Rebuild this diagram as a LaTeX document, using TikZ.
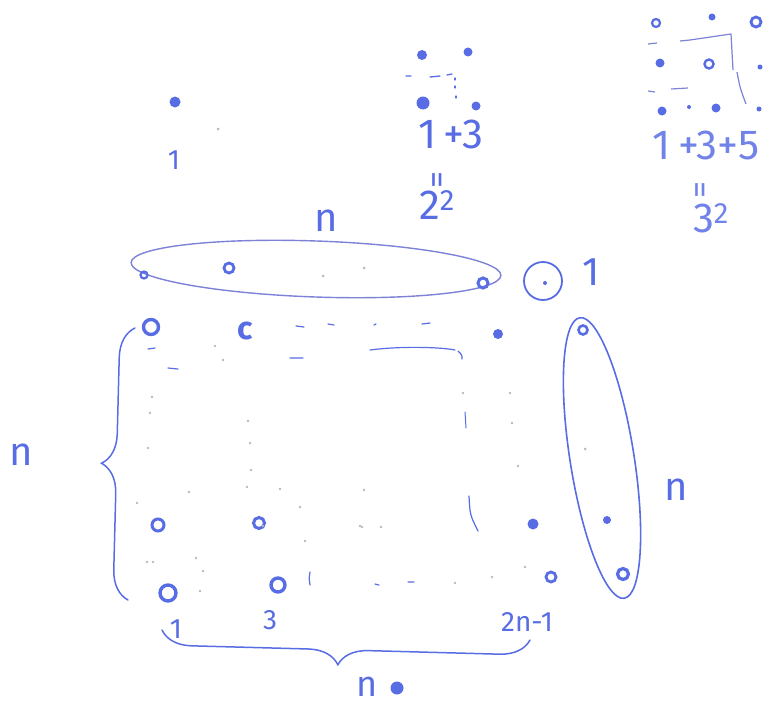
\documentclass[tikz,border=0pt]{standalone}
\usepackage{fontspec}
\setmainfont{Fira Sans}
\usetikzlibrary{decorations.pathreplacing}
\definecolor{ink}{RGB}{88,108,228}
\definecolor{inklight}{RGB}{125,130,215}
\begin{document}
\begin{tikzpicture}[x=1pt,y=-1pt,
  dotf/.style={circle,fill=ink,inner sep=0pt,minimum size=9pt},
  ring/.style={circle,draw=ink,line width=2.6pt,inner sep=0pt,minimum size=8pt},
  faint/.style={circle,fill=gray!55,inner sep=0pt,minimum size=3pt},
  lbl/.style={text=ink,inner sep=0pt},
  big/.style={lbl,font=\fontsize{42}{42}\selectfont},
  mid/.style={lbl,font=\fontsize{28}{28}\selectfont},
  nn/.style={lbl,font=\fontsize{40}{40}\selectfont},
  pen/.style={draw=ink,line width=1.6pt,line cap=round},
  loop/.style={draw=inklight,line width=1.4pt}]
\useasboundingbox (0,0) rectangle (770,709);

% ---- top-left: 1
\node[dotf,minimum size=11pt] (a1) at (175,102) {};
\node[faint] (a2) at (218,129) {};
\node[mid] (t1) at (174,160) {1};

% ---- 1+3 = 2^2
\node[dotf,minimum size=10pt] (b1) at (422,55) {};
\node[dotf,minimum size=9pt] (b2) at (468,52) {};
\node[dotf,minimum size=13pt] (b3) at (423,103) {};
\node[dotf,minimum size=9pt] (b4) at (476,106) {};
\draw[pen,line width=1.3pt] (406,76)--(411,76) (430,77)--(440,76) (447,75)--(452,74);
\draw[pen,line width=1.3pt] (455,78)--(455,80) (455,86)--(455,88) (456,96)--(456,98);
\node[big] (s13) at (451,134) {1\,+3};
\node[lbl,font=\fontsize{34}{34}\selectfont,rotate=90] (eq1) at (441,180) {=};
\node[big] (p22) at (437,205) {2\textsuperscript{2}};

% ---- 1+3+5 = 3^2
\node[ring,minimum size=8pt,line width=2.2pt] (c1) at (656,23) {};
\node[dotf,minimum size=7pt] (c2) at (712,17) {};
\node[ring,minimum size=10pt,line width=2.8pt] (c3) at (756,22) {};
\node[dotf,minimum size=9pt] (c4) at (660,63) {};
\node[ring,minimum size=9pt,line width=2.4pt] (c5) at (709,64) {};
\node[dotf,minimum size=5pt] (c6) at (760,67) {};
\node[dotf,minimum size=9pt] (c7) at (662,111) {};
\node[dotf,minimum size=4pt] (c8) at (689,107) {};
\node[dotf,minimum size=9pt] (c9) at (716,108) {};
\node[dotf,minimum size=5pt] (c10) at (759,109) {};
\draw[loop,line width=1.2pt] (648,44)--(657,43) (680,41)--(690,40)--(731,34)--(733,70);
\draw[loop,line width=1.2pt] (737,72) .. controls (740,88) .. (746,104);
\draw[loop,line width=1.2pt] (648,91)--(655,92) (671,89)--(688,88);
\node[big,text=ink!85] (s135) at (706,145) {1\,+3+5};
\node[lbl,text=ink!85,font=\fontsize{34}{34}\selectfont,rotate=90] (eq2) at (704,190) {=};
\node[big,text=ink!85] (p32) at (711,218) {3\textsuperscript{2}};

% ---- top row, loop of n
\node[nn] (ntop) at (326,221) {n};
\draw[loop] (316,269) ellipse [x radius=185, y radius=28, rotate=-2];
\node[ring,minimum size=7pt,line width=2.2pt] (r1) at (144,275) {};
\node[ring,minimum size=10pt,line width=2.8pt] (r2) at (229,268) {};
\node[faint] (r3) at (323,276) {};
\node[faint] (r4) at (364,268) {};
\node[ring,minimum size=10pt,line width=3pt] (r5) at (483,283) {};

% ---- single dot
\draw[pen,line width=1.8pt] (543,281) circle [radius=19];
\node[dotf,minimum size=4pt] (sd) at (545,283) {};
\node[nn] (sone) at (591,272) {1};

% ---- right column loop of n
\draw[loop,draw=ink,line width=1.6pt] (602,458) ellipse [x radius=142, y radius=32, rotate=-81];
\node[ring,minimum size=9pt,line width=2.6pt] (q1) at (583,330) {};
\node[faint] (q2) at (585,449) {};
\node[dotf,minimum size=8pt] (q3) at (607,520) {};
\node[ring,minimum size=11pt,line width=3.2pt] (q4) at (623,574) {};
\node[nn] (nright) at (676,490) {n};

% ---- square grid
\node[ring,minimum size=15pt,line width=3.4pt] (g1) at (151,327) {};
\node[lbl,font=\fontsize{32}{32}\selectfont\bfseries] (g2) at (245,331) {c};
\node[dotf,minimum size=10pt] (g3) at (498,334) {};
\node[ring,minimum size=12pt,line width=3pt] (g4) at (158,525) {};
\node[ring,minimum size=11pt,line width=3pt] (g5) at (259,523) {};
\node[dotf,minimum size=11pt] (g6) at (533,524) {};
\node[ring,minimum size=16pt,line width=3.4pt] (g7) at (168,593) {};
\node[ring,minimum size=14pt,line width=3.4pt] (g8) at (278,585) {};
\node[ring,minimum size=10pt,line width=2.8pt] (g9) at (551,577) {};
% dashed guide lines
\draw[pen,line width=1.2pt] (296,326)--(304,327) (328,324)--(334,325) (374,325)--(376,324) (422,324)--(430,323);
\draw[pen,line width=1.2pt] (148,349)--(155,348) (290,358)--(303,358) (370,350) .. controls (400,346) and (440,347) .. (455,350) (458,351) .. controls (462,355) .. (462,359);
\draw[pen,line width=1.2pt] (168,368)--(178,369);
\draw[pen,line width=1.0pt] (465,412)--(466,428);
\draw[pen,line width=1.2pt] (469,496) .. controls (470,515) .. (478,531);
\draw[pen,line width=1.2pt] (310,572) .. controls (309,578) .. (310,585) (375,584)--(379,585) (408,582)--(414,582);
% faint pencil dots
\foreach \p/\q in {152/397, 150/413, 148/448, 248/421, 250/443, 251/470, 247/487, 280/489, 189/492, 137/503, 147/562, 215/346, 223/360, 463/393, 510/393, 512/423, 518/466, 364/490, 362/527, 381/527, 360/526, 300/507, 153/562, 196/558, 203/571, 200/591, 525/567, 492/577, 455/583, 305/541, 263/526} {
  \fill[gray!55] (\p,\q) circle [radius=1.4];
}

% ---- labels under grid
\node[mid] (l1) at (176,629) {1};
\node[mid] (l3) at (270,620) {3};
\node[lbl,font=\fontsize{28}{28}\selectfont] (l2n) at (527,622) {2n-1};

% ---- braces
\draw[pen,line width=1.5pt,decorate,decoration={brace,amplitude=30pt,aspect=0.5}] (128,600) -- (135,328);
\node[nn] (nleft) at (21,455) {n};
\draw[pen,line width=1.5pt,decorate,decoration={brace,amplitude=30pt,aspect=0.52}] (530,640) -- (162,630);
\node[lbl,font=\fontsize{36}{36}\selectfont] (nbot) at (367,687) {n};
\node[dotf,minimum size=13pt] (nbd) at (397,688) {};
\end{tikzpicture}
\end{document}
